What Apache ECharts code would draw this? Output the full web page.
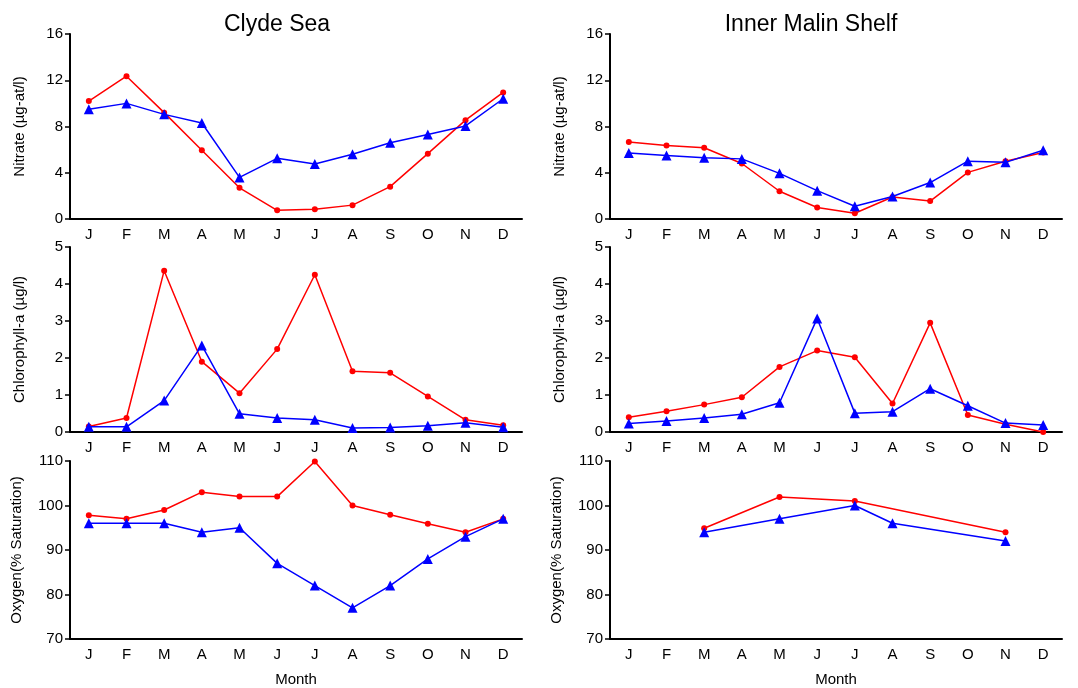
<!DOCTYPE html>
<html>
<head>
<meta charset="utf-8">
<script src="https://cdn.jsdelivr.net/npm/echarts@6/dist/echarts.min.js"></script>
<style>
html,body{margin:0;padding:0;background:#fff;}
#c{width:1078px;height:688px;}
</style>
</head>
<body>
<div id="c"></div>
<script>
const months = ['J','F','M','A','M','J','J','A','S','O','N','D'];
const panelTitles = ['Clyde Sea', 'Inner Malin Shelf'];
const yNames = ['Nitrate (µg-at/l)', 'Chlorophyll-a (µg/l)', 'Oxygen(% Saturation)'];
const xName = 'Month';

// Clyde Sea
const clydeNitrateRed  = [10.2, 12.35, 9.2, 5.95, 2.7, 0.75, 0.85, 1.2, 2.8, 5.65, 8.55, 10.95];
const clydeNitrateBlue = [9.5, 10.0, 9.05, 8.3, 3.6, 5.25, 4.75, 5.6, 6.6, 7.3, 8.05, 10.4];
const clydeChlRed  = [0.15, 0.38, 4.36, 1.9, 1.05, 2.24, 4.25, 1.64, 1.6, 0.96, 0.33, 0.18];
const clydeChlBlue = [0.14, 0.14, 0.85, 2.34, 0.49, 0.38, 0.33, 0.11, 0.12, 0.17, 0.25, 0.13];
const clydeOxyRed  = [97.8, 97, 99, 103, 102, 102, 109.9, 100, 97.9, 95.9, 94, 97];
const clydeOxyBlue = [96, 96, 96, 94, 95, 87, 82, 77, 82, 88, 93, 97];

// Inner Malin Shelf
const malinNitrateRed  = [6.65, 6.36, 6.16, 4.8, 2.4, 1.0, 0.5, 1.9, 1.55, 4.03, 5.0, 5.75];
const malinNitrateBlue = [5.7, 5.5, 5.3, 5.2, 3.95, 2.45, 1.1, 1.95, 3.15, 5.0, 4.9, 5.95];
const malinChlRed  = [0.4, 0.56, 0.74, 0.94, 1.76, 2.2, 2.02, 0.77, 2.95, 0.46, 0.21, 0.0];
const malinChlBlue = [0.23, 0.3, 0.38, 0.48, 0.79, 3.07, 0.51, 0.55, 1.17, 0.71, 0.24, 0.19];
const malinOxyRed  = [null, null, 94.9, null, 101.9, null, 101, null, null, null, 94, null];
const malinOxyBlue = [null, null, 94, null, 97, null, 100, 96, null, null, 92, null];

const yRanges = [
  {min: 0, max: 16, interval: 4},
  {min: 0, max: 5, interval: 1},
  {min: 70, max: 110, interval: 10}
];

const font = 'Liberation Sans, Arial, sans-serif';
const tops = [34, 247, 461];
const lefts = [70, 610];
const H = 185, W = 452;
const nameGaps = [42.5, 42.5, 45.5];

const grids = [], xAxes = [], yAxes = [], series = [];
const redData = [[clydeNitrateRed, clydeChlRed, clydeOxyRed],[malinNitrateRed, malinChlRed, malinOxyRed]];
const blueData = [[clydeNitrateBlue, clydeChlBlue, clydeOxyBlue],[malinNitrateBlue, malinChlBlue, malinOxyBlue]];

let idx = 0;
for (let c = 0; c < 2; c++) {
  for (let r = 0; r < 3; r++) {
    grids.push({left: lefts[c], top: tops[r], width: W, height: H, containLabel: false});
    xAxes.push({
      type: 'category', gridIndex: idx, data: months, boundaryGap: true,
      axisLine: {lineStyle: {color: '#000', width: 2}},
      axisTick: {alignWithLabel: true, length: 5, lineStyle: {color: '#000', width: 1.5}},
      axisLabel: {color: '#000', fontSize: 15, fontFamily: font, margin: 8, interval: 0},
      name: r === 2 ? xName : '', nameLocation: 'middle', nameGap: 33,
      nameTextStyle: {color: '#000', fontSize: 15, fontFamily: font}
    });
    yAxes.push({
      type: 'value', gridIndex: idx, min: yRanges[r].min, max: yRanges[r].max, interval: yRanges[r].interval,
      axisLine: {show: true, lineStyle: {color: '#000', width: 2}},
      axisTick: {show: true, length: 5, lineStyle: {color: '#000', width: 1.5}},
      axisLabel: {color: '#000', fontSize: 15, fontFamily: font, margin: 7},
      splitLine: {show: false},
      name: yNames[r], nameLocation: 'middle', nameGap: nameGaps[r],
      nameTextStyle: {color: '#000', fontSize: 15, fontFamily: font}
    });
    series.push({
      type: 'line', xAxisIndex: idx, yAxisIndex: idx, data: redData[c][r],
      connectNulls: true, symbol: 'circle', symbolSize: 6,
      lineStyle: {color: '#ff0000', width: 1.5}, itemStyle: {color: '#ff0000'}, z: 2
    });
    series.push({
      type: 'line', xAxisIndex: idx, yAxisIndex: idx, data: blueData[c][r],
      connectNulls: true, symbol: 'triangle', symbolSize: 10,
      lineStyle: {color: '#0000ff', width: 1.5}, itemStyle: {color: '#0000ff'}, z: 3
    });
    idx++;
  }
}

const chart = echarts.init(document.getElementById('c'), null, {renderer: 'canvas'});
chart.setOption({
  animation: false,
  backgroundColor: '#fff',
  title: [
    {text: panelTitles[0], left: 272, top: 8, textAlign: 'center', textStyle: {fontSize: 23, fontWeight: 'normal', color: '#000', fontFamily: font}},
    {text: panelTitles[1], left: 806, top: 8, textAlign: 'center', textStyle: {fontSize: 23, fontWeight: 'normal', color: '#000', fontFamily: font}}
  ],
  grid: grids, xAxis: xAxes, yAxis: yAxes, series: series
});
</script>
</body>
</html>
